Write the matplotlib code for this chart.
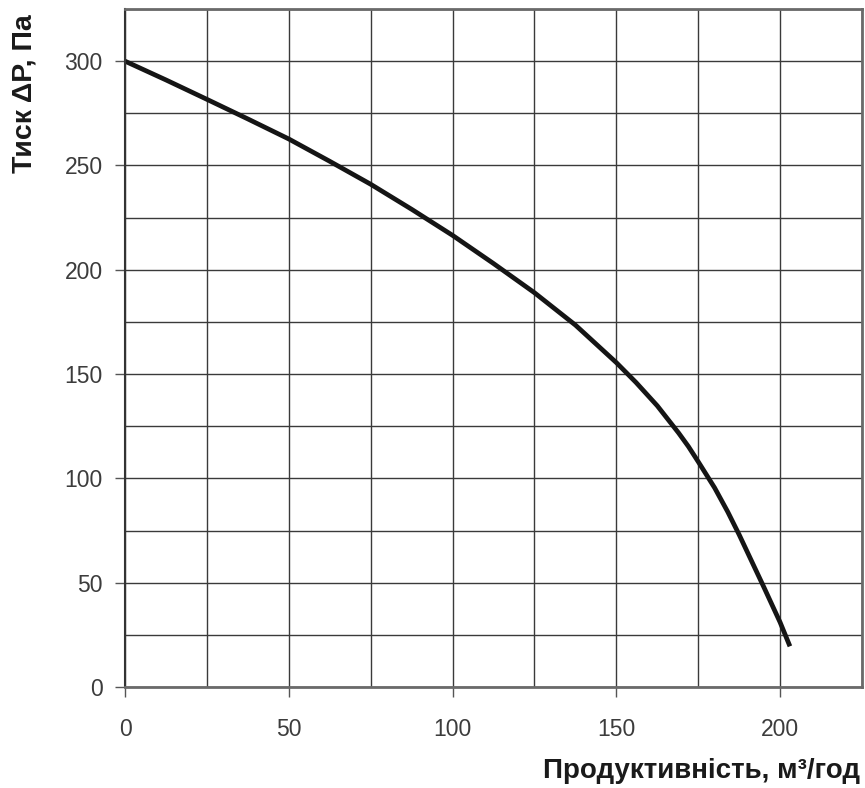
import matplotlib
matplotlib.use("Agg")
import matplotlib.pyplot as plt
from matplotlib.ticker import MultipleLocator

# fan curve (flow m3/h, pressure Pa)
flow = [0, 12.5, 25, 37.5, 50, 62.5, 75, 87.5, 100, 112.5, 125, 137.5,
        150, 156, 162.5, 169, 172, 175, 180, 184, 187.5, 195, 200, 203]
pressure = [300, 291, 281.7, 272.3, 262.7, 252, 241, 229, 216.5, 203, 189, 173.5,
            155.5, 146, 134.8, 121.8, 115.3, 108, 95.5, 84, 73, 48, 31, 19.5]

x_ticks = [0, 50, 100, 150, 200]
y_ticks = [0, 50, 100, 150, 200, 250, 300]

plt.rcParams["font.family"] = ["Liberation Sans", "DejaVu Sans"]

fig = plt.figure(figsize=(8.65, 7.88), dpi=100)
ax = fig.add_axes([125 / 865, 1 - 687 / 788, 737 / 865, 678 / 788])

ax.set_xlim(0, 225)
ax.set_ylim(0, 325)
ax.set_xticks(x_ticks)
ax.set_yticks(y_ticks)
ax.xaxis.set_minor_locator(MultipleLocator(25))
ax.yaxis.set_minor_locator(MultipleLocator(25))

ax.grid(which="both", color="#3a3a3a", linewidth=1.0)
ax.set_axisbelow(True)

ax.plot(flow, pressure, color="#151515", linewidth=3.4,
        solid_capstyle="butt", solid_joinstyle="round")

for s in ax.spines.values():
    s.set_color("#6a6a6a")
    s.set_linewidth(2.0)
ax.spines["left"].set_color("#333333")
ax.spines["left"].set_linewidth(1.5)

ax.tick_params(which="major", length=7, width=1.0, color="#555555",
               labelsize=16.5, labelcolor="#3c3c3c")
ax.tick_params(axis="y", pad=9)
ax.tick_params(axis="x", pad=15)
ax.tick_params(which="minor", length=0)

fig.text(25 / 865, 1 - 14 / 788, "Тиск ΔP, Па", rotation=90, ha="center",
         va="top", fontsize=20.5, fontweight="bold", color="#1a1a1a")
fig.text(860 / 865, 1 - 771 / 788, "Продуктивність, м³/год", ha="right",
         va="center", fontsize=20, fontweight="bold", color="#1a1a1a")

fig.savefig("out.png", dpi=100, facecolor="white")
